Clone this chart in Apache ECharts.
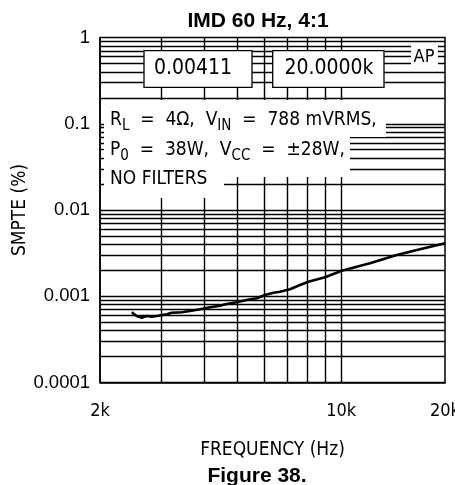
<!DOCTYPE html>
<html><head><meta charset="utf-8">
<script src="https://cdn.jsdelivr.net/npm/echarts@6/dist/echarts.min.js"></script>
<style>html,body{margin:0;padding:0;background:#fff}#c{width:455px;height:485px}</style>
</head><body><div id="c"></div>
<script>
// Data
const freq = [2472,2555,2642,2732,2824,2952,3122,3228,3450,3647,3899,4169,4457,4658,4980,5323,5692,6016,6360,6651,7108,7600,8034,8978,10040,12124,14488,16932,20000];
const smpte = [0.000652,0.000590,0.000564,0.000590,0.000579,0.000595,0.000618,0.000645,0.000652,0.000675,0.000706,0.000745,0.000777,0.000812,0.000851,0.000905,0.000947,0.001033,0.001099,0.001129,0.001205,0.001350,0.001475,0.001659,0.001978,0.002410,0.003010,0.003500,0.00411];
const xGridValues = [3000,4000,5000,6000,7000,8000,9000,10000];
const yDecades = [0.0001,0.001,0.01,0.1];
const yMantissas = [1,2,3,4,5,6,7,8,9];
const readoutY = '0.00411';
const readoutX = '20.0000k';

const yGridValues = [];
yDecades.forEach(d => yMantissas.forEach(m => { const v = +(m*d).toPrecision(3); if (v > 0.0001 && v < 1) yGridValues.push(v); }));

const TECH = 'DejaVu Sans Condensed, DejaVu Sans';
const chart = echarts.init(document.getElementById('c'), null, {renderer:'canvas'});
const main = {fontFamily: TECH, fontSize: 19, color:'#000', lineHeight: 22, verticalAlign:'top'};
const sub = {fontFamily: TECH, fontSize: 15, color:'#000', lineHeight: 22, verticalAlign:'top', padding:[8,0,0,0]};
const rich = {m: main, s: sub};

chart.setOption({
  animation: false,
  backgroundColor: '#fff',
  title: [
    {text: 'IMD 60 Hz, 4:1', left: 253, top: 6, textAlign: 'center',
     textStyle: {fontFamily: 'Liberation Sans, Arial', fontWeight: 'bold', fontSize: 21, color: '#000'}},
    {text: 'Figure 38.', left: 252, top: 461, textAlign: 'center',
     textStyle: {fontFamily: 'Liberation Sans, Arial', fontWeight: 'bold', fontSize: 21, color: '#000'}}
  ],
  grid: {left: 100, right: 10, top: 37.5, bottom: 102.5, outerBoundsMode: 'none', containLabel: false,
         show: true, borderColor: '#000', borderWidth: 1.5, backgroundColor: 'transparent'},
  xAxis: {
    type: 'log', logBase: 10, min: 2000, max: 20000,
    name: 'FREQUENCY (Hz)', nameLocation: 'middle', nameGap: 58, nameMoveOverlap: false,
    nameTextStyle: {fontFamily: TECH, fontSize: 19, color: '#000'},
    axisLine: {show: true, lineStyle: {color: '#000', width: 1.5}},
    axisTick: {show: false},
    splitLine: {show: false},
    axisLabel: {show: true, margin: 20, color: '#000', fontFamily: TECH, fontSize: 18,
      showMinLabel: true, showMaxLabel: true, hideOverlap: false,
      formatter: v => Math.round(v/1000) + 'k'}
  },
  yAxis: {
    type: 'log', logBase: 10, min: 0.0001, max: 1,
    name: 'SMPTE (%)', nameLocation: 'middle', nameGap: 70, nameMoveOverlap: false,
    nameTextStyle: {fontFamily: TECH, fontSize: 19, color: '#000'},
    axisLine: {show: true, lineStyle: {color: '#000', width: 1.5}},
    axisTick: {show: false},
    splitLine: {show: false},
    axisLabel: {margin: 10, color: '#000', fontFamily: 'Liberation Sans, Arial', fontSize: 18.5,
      formatter: v => String(+(+v).toPrecision(1))}
  },
  series: [
    {type: 'line', data: [], silent: true, z: 1,
     markLine: {silent: true, symbol: ['none','none'], label: {show: false}, animation: false, precision: 10,
       lineStyle: {color: '#000', width: 1.4, type: 'solid'},
       emphasis: {disabled: true},
       data: yGridValues.map(v => ({yAxis: v})).concat(xGridValues.map(v => ({xAxis: v})))}},
    {type: 'line', data: freq.map((f,i) => [f, smpte[i]]), showSymbol: false, symbol: 'none', z: 5,
     lineStyle: {color: '#000', width: 2.6}}
  ],
  graphic: [
    {type:'rect', z:100, shape:{x:104, y:100, width:282, height:37}, style:{fill:'#fff'}},
    {type:'rect', z:100, shape:{x:104, y:137, width:246, height:40}, style:{fill:'#fff'}},
    {type:'rect', z:100, shape:{x:104, y:177, width:120, height:21}, style:{fill:'#fff'}},
    {type:'rect', z:100, shape:{x:411, y:44, width:27, height:22}, style:{fill:'#fff'}},
    {type:'rect', z:100, shape:{x:144, y:50.7, width:108, height:36.6}, style:{fill:'#fff', stroke:'#000', lineWidth:1.3}},
    {type:'rect', z:100, shape:{x:272.7, y:50.7, width:111.3, height:36.6}, style:{fill:'#fff', stroke:'#000', lineWidth:1.3}},
    {type:'text', z:101, x:193, y:69, style:{text: readoutY, font: '21px ' + TECH, fill:'#000', align:'center', verticalAlign:'middle'}},
    {type:'text', z:101, x:329, y:69, style:{text: readoutX, font: '21px ' + TECH, fill:'#000', align:'center', verticalAlign:'middle'}},
    {type:'text', z:101, x:424, y:57, style:{text: 'AP', font: '18px ' + TECH, fill:'#000', align:'center', verticalAlign:'middle'}},
    {type:'text', z:101, x:110, y:111, style:{text: '{m|R}{s|L}{m|  =  4Ω,  V}{s|IN}{m|  =  788 mVRMS,}', rich: rich, fill:'#000'}},
    {type:'text', z:101, x:110, y:141, style:{text: '{m|P}{s|0}{m|  =  38W,  V}{s|CC}{m|  =  ±28W,}', rich: rich, fill:'#000'}},
    {type:'text', z:101, x:110, y:170, style:{text: '{m|NO FILTERS}', rich: rich, fill:'#000'}}
  ]
});
</script></body></html>
